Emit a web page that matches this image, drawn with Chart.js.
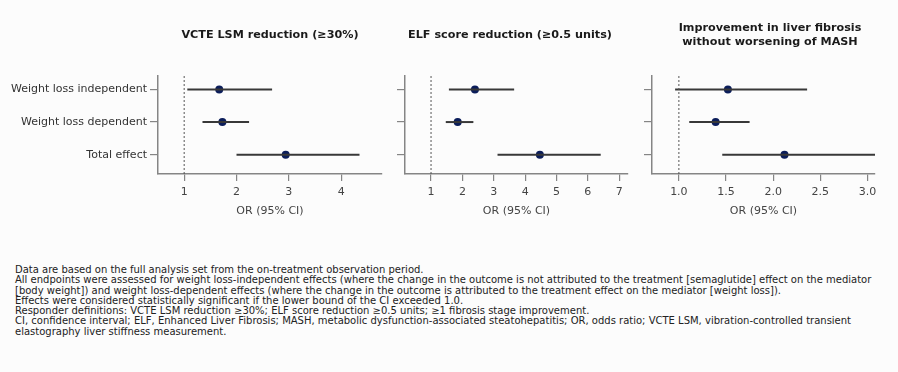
<!DOCTYPE html>
<html>
<head>
<meta charset="utf-8">
<script src="https://cdn.jsdelivr.net/npm/chart.js@4.4.1/dist/chart.umd.min.js"></script>
<style>
  html, body { margin: 0; padding: 0; background: #fcfcfc; }
  body { width: 898px; height: 372px; position: relative; overflow: hidden; font-family: "DejaVu Sans", Verdana, sans-serif; }
  .cv { position: absolute; top: 0; }
  .ttl { position: absolute; font-weight: bold; font-size: 11.2px; color: #1a1a1a; text-align: center; line-height: 13.5px; white-space: nowrap; }
  #notes { position: absolute; left: 15px; top: 265px; font-size: 10px; line-height: 10.25px; color: #222; white-space: nowrap; }
</style>
</head>
<body>
<canvas id="c1" class="cv" style="left:0px" width="392" height="230"></canvas>
<canvas id="c2" class="cv" style="left:392px" width="246" height="230"></canvas>
<canvas id="c3" class="cv" style="left:640px" width="258" height="230"></canvas>
<div class="ttl" style="left:170px;width:200px;top:28px">VCTE LSM reduction (≥30%)</div>
<div class="ttl" style="left:400px;width:220px;top:28px">ELF score reduction (≥0.5 units)</div>
<div class="ttl" style="left:660px;width:220px;top:21px">Improvement in liver fibrosis<br>without worsening of MASH</div>
<div id="notes"></div>
<script>
// ---------- data ----------
const rows = ['Weight loss independent', 'Weight loss dependent', 'Total effect'];
const rowIdx = [0, 1, 2];

const vcteOR   = [1.67, 1.73, 2.94];
const vcteLow  = [1.06, 1.35, 2.00];
const vcteHigh = [2.68, 2.24, 4.35];

const elfOR   = [2.40, 1.85, 4.47];
const elfLow  = [1.57, 1.47, 3.12];
const elfHigh = [3.65, 2.35, 6.41];

const fibOR   = [1.52, 1.39, 2.12];
const fibLow  = [0.96, 1.11, 1.46];
const fibHigh = [2.36, 1.75, 3.10];

const refValue = 1;
const vcteTicks = [1, 2, 3, 4];
const elfTicks = [1, 2, 3, 4, 5, 6, 7];
const fibTicks = [1.0, 1.5, 2.0, 2.5, 3.0];
const fibTickLabels = ['1.0', '1.5', '2.0', '2.5', '3.0'];
const xTitle = 'OR (95% CI)';

const notes = [
  'Data are based on the full analysis set from the on-treatment observation period.',
  'All endpoints were assessed for weight loss-independent effects (where the change in the outcome is not attributed to the treatment [semaglutide] effect on the mediator',
  '[body weight]) and weight loss-dependent effects (where the change in the outcome is attributed to the treatment effect on the mediator [weight loss]).',
  'Effects were considered statistically significant if the lower bound of the CI exceeded 1.0.',
  'Responder definitions: VCTE LSM reduction ≥30%; ELF score reduction ≥0.5 units; ≥1 fibrosis stage improvement.',
  'CI, confidence interval; ELF, Enhanced Liver Fibrosis; MASH, metabolic dysfunction-associated steatohepatitis; OR, odds ratio; VCTE LSM, vibration-controlled transient',
  'elastography liver stiffness measurement.'
];
document.getElementById('notes').innerHTML = notes.map(t => '<div>' + t.replace(/</g,'&lt;') + '</div>').join('');

// ---------- charts ----------
const AXIS = '#858585';
const FONT = "'DejaVu Sans', Verdana, sans-serif";
const Y_MIN = -0.41, Y_MAX = 2.59;

function makePanel(id, o) {
  const datasets = [];
  // reference line
  datasets.push({
    data: [{x: refValue, y: Y_MIN}, {x: refValue, y: Y_MAX}],
    showLine: true, borderColor: '#555', borderWidth: 1, borderDash: [2, 2],
    pointRadius: 0, clip: false
  });
  // CI segments
  rowIdx.forEach(i => {
    datasets.push({
      data: [{x: o.low[i], y: i}, {x: o.high[i], y: i}],
      showLine: true, borderColor: '#383838', borderWidth: 2, pointRadius: 0
    });
  });
  // point estimates
  datasets.push({
    data: rowIdx.map(i => ({x: o.or[i], y: i})),
    showLine: false, pointRadius: 4, pointBackgroundColor: '#0b1d5a',
    pointBorderColor: '#0b1d5a', pointBorderWidth: 0, clip: false
  });

  new Chart(document.getElementById(id), {
    type: 'scatter',
    data: { datasets },
    options: {
      responsive: false, animation: false, events: [],
      layout: { padding: { top: 76, right: o.padRight, bottom: 0, left: 0 } },
      plugins: { legend: { display: false }, tooltip: { enabled: false }, title: { display: false } },
      scales: {
        x: {
          type: 'linear', min: o.min, max: o.max,
          afterBuildTicks: s => { s.ticks = o.ticks.map(v => ({ value: v })); },
          afterFit: s => { s.height = 56; },
          ticks: {
            padding: 5, color: '#444', font: { family: FONT, size: 11 },
            maxRotation: 0, autoSkip: false,
            callback: (v, i) => o.tickLabels ? o.tickLabels[i] : String(v)
          },
          grid: { drawOnChartArea: false, drawTicks: true, tickLength: 7, color: AXIS, lineWidth: 1.2 },
          border: { display: true, color: AXIS, width: 1.5 },
          title: { display: true, text: xTitle, color: '#444', font: { family: FONT, size: 11 }, padding: { top: 4, bottom: 12 } }
        },
        y: {
          type: 'linear', reverse: true, min: Y_MIN, max: Y_MAX,
          afterBuildTicks: s => { s.ticks = rowIdx.map(v => ({ value: v })); },
          afterFit: s => { s.width = o.yWidth; },
          ticks: {
            padding: 3, color: '#333', font: { family: FONT, size: 11 }, autoSkip: false,
            callback: v => o.showLabels ? rows[v] : ''
          },
          grid: { drawOnChartArea: false, drawTicks: true, tickLength: 8, color: AXIS, lineWidth: 1.2 },
          border: { display: true, color: AXIS, width: 1.5 }
        }
      }
    }
  });
}

makePanel('c1', { or: vcteOR, low: vcteLow, high: vcteHigh, min: 0.5, max: 4.78,
  ticks: vcteTicks, showLabels: true, yWidth: 158, padRight: 10 });
makePanel('c2', { or: elfOR, low: elfLow, high: elfHigh, min: 0.17, max: 7.28,
  ticks: elfTicks, showLabels: false, yWidth: 13, padRight: 10 });
makePanel('c3', { or: fibOR, low: fibLow, high: fibHigh, min: 0.715, max: 3.08,
  ticks: fibTicks, tickLabels: fibTickLabels, showLabels: false, yWidth: 12, padRight: 23 });
</script>
</body>
</html>
